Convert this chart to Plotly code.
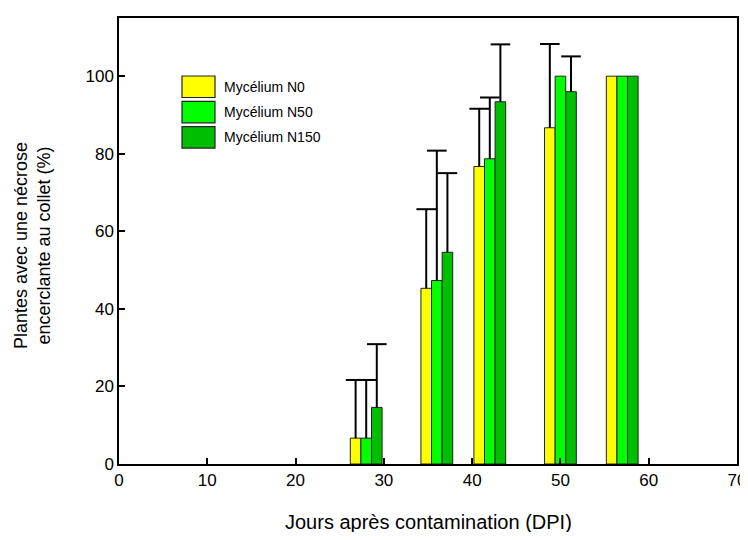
import plotly.graph_objects as go

# ---- data ----
days = [28, 36, 42, 50, 57]
series_names = ["Mycélium N0", "Mycélium N50", "Mycélium N150"]
n0 = [6.67, 45.3, 76.7, 86.7, 100]
n50 = [6.67, 47.3, 78.7, 100, 100]
n150 = [14.6, 54.6, 93.4, 96.0, 100]
n0_err = [15.0, 20.4, 14.9, 21.6, None]
n50_err = [15.0, 33.5, 15.8, None, None]
n150_err = [16.3, 20.4, 14.8, 9.1, None]
x_ticks = [0, 10, 20, 30, 40, 50, 60, 70]
y_ticks = [0, 20, 40, 60, 80, 100]

colors = ["#FFFF00", "#00FF00", "#00BF00"]
values = [n0, n50, n150]
errors = [n0_err, n50_err, n150_err]
bar_w = 1.2
offsets = [-1.8, -0.6, 0.6]

FONT = "Arial, Liberation Sans, sans-serif"
OFF = 8  # page body margin
W, H = 740, 524
L, R, T = 119 - OFF, 11, 18 - OFF
B = H - (464 - OFF)

fig = go.Figure()
for name, vals, errs, col, off in zip(series_names, values, errors, colors, offsets):
    fig.add_trace(go.Bar(
        x=days, y=vals, name=name, width=bar_w, offset=off,
        marker=dict(color=col, line=dict(color="#222222", width=1)),
        error_y=dict(type="data", symmetric=False, array=errs,
                     arrayminus=[0] * len(errs), color="black",
                     thickness=2, width=0),
        showlegend=False,
    ))
# caps on top of the error bars only
for vals, errs, off in zip(values, errors, offsets):
    cx, cy = [], []
    for d, v, e in zip(days, vals, errs):
        if e is not None:
            cx.append(d + off + bar_w / 2)
            cy.append(v + e)
    fig.add_trace(go.Scatter(
        x=cx, y=cy, mode="markers", showlegend=False, hoverinfo="skip",
        marker=dict(symbol="line-ew", size=14, line=dict(color="black", width=2)),
    ))

# helpers: screen pixel -> paper coords
pw, ph = W - L - R, H - T - B
def px_x(p):
    return (p - OFF - L) / pw
def px_y(p):
    return 1 - (p - OFF - T) / ph

shapes = []
annotations = []
for i, (name, col) in enumerate(zip(series_names, colors)):
    top = 76 + 25.3 * i
    shapes.append(dict(type="rect", xref="paper", yref="paper",
                       x0=px_x(182), x1=px_x(215), y0=px_y(top + 21.5), y1=px_y(top),
                       fillcolor=col, line=dict(color="#222222", width=1.2)))
    annotations.append(dict(xref="paper", yref="paper", x=px_x(222), y=px_y(top + 10.8),
                            text=name, showarrow=False, xanchor="left", yanchor="middle",
                            font=dict(family=FONT, size=14, color="black")))

annotations.append(dict(xref="paper", yref="paper", x=px_x(428), y=px_y(522),
                        text="Jours après contamination (DPI)", showarrow=False,
                        xanchor="center", yanchor="middle",
                        font=dict(family=FONT, size=20, color="black")))
annotations.append(dict(xref="paper", yref="paper", x=px_x(32), y=px_y(246),
                        text="Plantes avec une nécrose<br>encerclante au collet (%)",
                        showarrow=False, textangle=-90, xanchor="center", yanchor="middle",
                        font=dict(family=FONT, size=18, color="black")))

fig.update_layout(
    width=W, height=H,
    margin=dict(l=L, r=R, t=T, b=B),
    paper_bgcolor="white", plot_bgcolor="white",
    barmode="overlay",
    font=dict(family=FONT, color="black"),
    shapes=shapes, annotations=annotations,
    xaxis=dict(range=[0, 70], tickvals=x_ticks, ticks="inside", ticklen=6, tickwidth=1.5,
               tickcolor="black", showline=True, linecolor="black", linewidth=1.5,
               mirror=True, showgrid=False, zeroline=False, automargin=False,
               tickfont=dict(family=FONT, size=17, color="black")),
    yaxis=dict(range=[0, 115], tickvals=y_ticks, ticks="inside", ticklen=6, tickwidth=1.5,
               tickcolor="black", showline=True, linecolor="black", linewidth=1.5,
               mirror=True, showgrid=False, zeroline=False, automargin=False,
               tickfont=dict(family=FONT, size=17, color="black")),
)

fig.write_html("out.html")
